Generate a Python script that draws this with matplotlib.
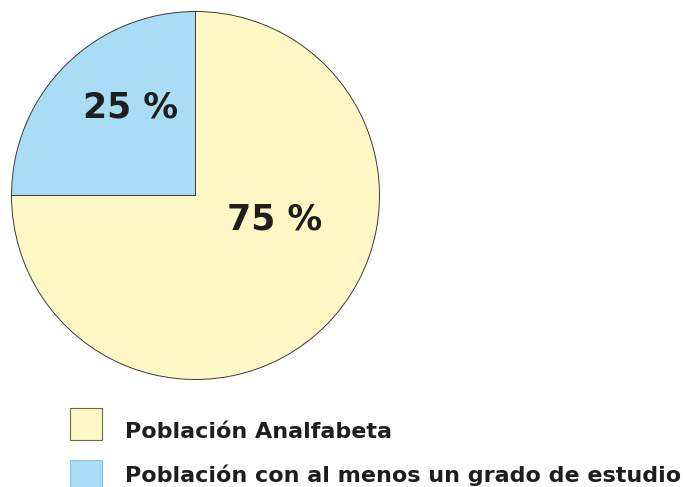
import matplotlib
matplotlib.use("Agg")
import matplotlib.pyplot as plt
from matplotlib.patches import Rectangle

# data
categorias = ["Población con al menos un grado de estudio", "Población Analfabeta"]
valores = [25, 75]
colores = ["#A9DDF6", "#FFF8C4"]
etiquetas = ["25 %", "75 %"]

W, H = 685, 487
fig = plt.figure(figsize=(W / 100, H / 100), dpi=100)
ax = fig.add_axes([0, 0, 1, 1])

cx, cy, r = 195.5, H - 195.5, 184
ax.pie(valores, colors=colores, startangle=90, counterclock=True,
       center=(cx, cy), radius=r, frame=True,
       wedgeprops=dict(edgecolor="#3a3a3a", linewidth=0.7))
ax.set_xlim(0, W)
ax.set_ylim(0, H)
ax.set_aspect("equal")
ax.axis("off")

# percentage labels (baseline positions)
pos = [(131, 117), (275, 230)]
for (x, y), t in zip(pos, etiquetas):
    ax.text(x, H - y, t, fontsize=25, fontweight="bold", family="DejaVu Sans",
            color="#1e1e1e", ha="center", va="baseline")

# legend (yellow first)
leg_y = [424, 476]
txt_y = [438, 482]
for yy, ty, i in zip(leg_y, txt_y, [1, 0]):
    ax.add_patch(Rectangle((70, H - yy - 16), 32, 32, facecolor=colores[i],
                           edgecolor="#6b6b4a" if i == 1 else "#8cc4e0",
                           linewidth=0.8, clip_on=False))
    ax.text(125, H - ty, categorias[i], fontsize=16, fontweight="bold",
            family="DejaVu Sans", color="#1e1e1e", ha="left", va="baseline")

fig.savefig("out.png", dpi=100)
